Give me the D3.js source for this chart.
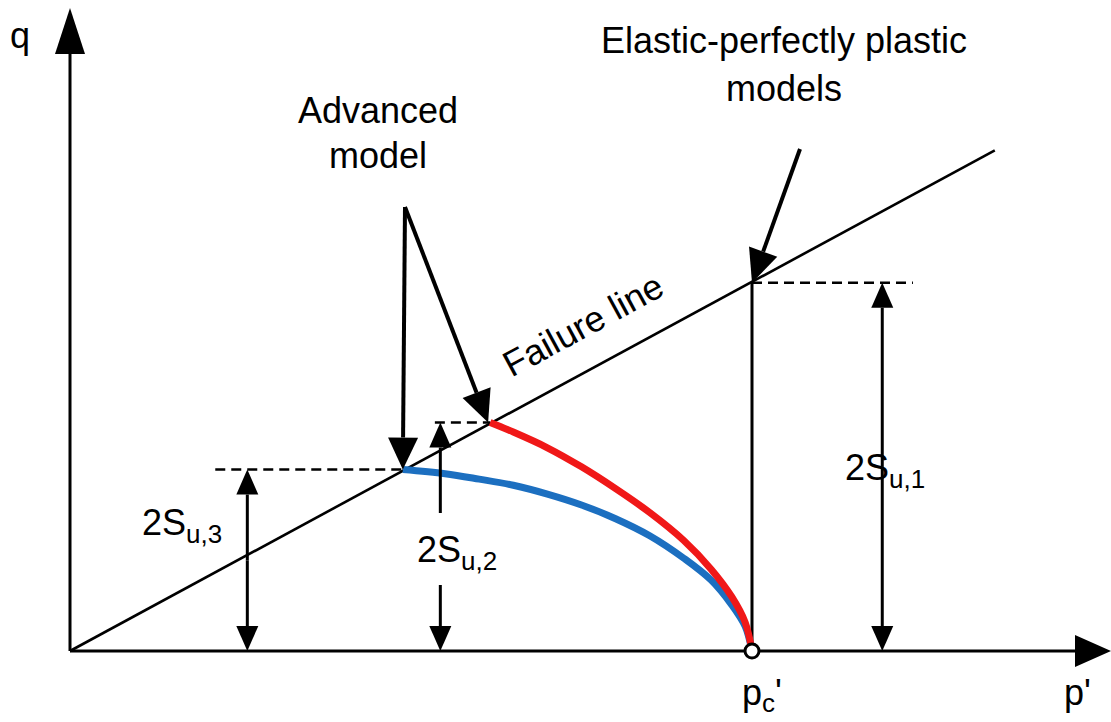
<!DOCTYPE html>
<html>
<head>
<meta charset="utf-8">
<script src="https://cdn.jsdelivr.net/npm/d3@7"></script>
<style>
  body { margin: 0; background: #fff; }
  svg { display: block; }
  text { font-family: "Liberation Sans", Arial, sans-serif; fill: #000; }
</style>
</head>
<body>
<div id="chart"></div>
<script>
// 数据（单位：p'/q，pc' = 100）
const failureLine = [[0, 0], [135.6, 73.4]];
const redPath = [[61.6, 33.5], [65, 32.1], [70, 29.8], [75, 27.0], [80, 23.8], [85, 20.3], [90, 16.2], [94, 12.0], [97, 8.0], [99, 4.2], [100, 0]];
const bluePath = [[48.8, 26.6], [55, 26.0], [60, 25.2], [65, 24.3], [70, 23.0], [75, 21.4], [80, 19.4], [85, 16.9], [90, 13.6], [94, 10.4], [97, 6.8], [99, 3.6], [100, 0]];
const pc = 100;
const strengths = [54.0, 33.5, 26.6];           // 2Su,1  2Su,2  2Su,3
const strengthNames = ["u,1", "u,2", "u,3"];
const dimArrowP = [119.1, 54.3, 26.0];          // 尺寸箭头所在的 p'
const dashStartP = [100, 53.5, 21.3];           // 虚线起点
const dashEndP = [123.6, 61.6, 48.8];           // 虚线终点
const axisLabels = ["q", "p'"];

const width = 1111, height = 722;
const x = d3.scaleLinear().domain([0, 100]).range([70, 752]);
const y = d3.scaleLinear().domain([0, 100]).range([651, -31]);

const svg = d3.select("#chart").append("svg")
    .attr("width", width).attr("height", height);

// 箭头：线 + 实心三角
function arrow(x1, y1, x2, y2, len, w, sw) {
    const a = Math.atan2(y2 - y1, x2 - x1);
    const bx = x2 - len * Math.cos(a), by = y2 - len * Math.sin(a);
    svg.append("line")
       .attr("x1", x1).attr("y1", y1).attr("x2", bx).attr("y2", by)
       .attr("stroke", "#000").attr("stroke-width", sw);
    const nx = -Math.sin(a) * w / 2, ny = Math.cos(a) * w / 2;
    svg.append("polygon")
       .attr("points", [[x2, y2], [bx + nx, by + ny], [bx - nx, by - ny]].map(p => p.join(",")).join(" "))
       .attr("fill", "#000");
}

// 坐标轴
arrow(x(0), y(0), x(0), 8, 46, 30, 3);
arrow(x(0), y(0), 1111, y(0), 36, 32, 3);

// 破坏线
svg.append("line")
   .attr("x1", x(failureLine[0][0])).attr("y1", y(failureLine[0][1]))
   .attr("x2", x(failureLine[1][0])).attr("y2", y(failureLine[1][1]))
   .attr("stroke", "#000").attr("stroke-width", 2.6);

// 虚线
strengths.forEach((s, i) => {
    svg.append("line")
       .attr("x1", x(dashStartP[i])).attr("x2", x(dashEndP[i]))
       .attr("y1", y(s)).attr("y2", y(s))
       .attr("stroke", "#000").attr("stroke-width", 2.5)
       .attr("stroke-dasharray", "10,6");
});

// pc' 处竖线
svg.append("line")
   .attr("x1", x(pc)).attr("x2", x(pc))
   .attr("y1", y(strengths[0])).attr("y2", y(0))
   .attr("stroke", "#000").attr("stroke-width", 3);

// 屈服面曲线
const line = d3.line().x(d => x(d[0])).y(d => y(d[1])).curve(d3.curveCatmullRom.alpha(0.5));
svg.append("path").attr("d", line(bluePath))
   .attr("fill", "none").attr("stroke", "#1c6fc0").attr("stroke-width", 7);
svg.append("path").attr("d", line(redPath))
   .attr("fill", "none").attr("stroke", "#f01818").attr("stroke-width", 7);

// 尺寸箭头
arrow(x(dimArrowP[0]), (y(0) + y(strengths[0])) / 2, x(dimArrowP[0]), y(strengths[0]), 25, 22, 3);
arrow(x(dimArrowP[0]), (y(0) + y(strengths[0])) / 2, x(dimArrowP[0]), y(0), 25, 22, 3);
arrow(x(dimArrowP[1]), 513, x(dimArrowP[1]), y(strengths[1]), 25, 22, 3);
arrow(x(dimArrowP[1]), 585, x(dimArrowP[1]), y(0), 25, 22, 3);
arrow(x(dimArrowP[2]), (y(0) + y(strengths[2])) / 2, x(dimArrowP[2]), y(strengths[2]), 25, 22, 3);
arrow(x(dimArrowP[2]), (y(0) + y(strengths[2])) / 2, x(dimArrowP[2]), y(0), 25, 22, 3);

// 注释箭头
arrow(405, 207, x(bluePath[0][0]), y(bluePath[0][1]), 32, 30, 4);
arrow(405, 207, x(redPath[0][0]) - 2, y(redPath[0][1]), 32, 30, 4);
arrow(800, 149, x(pc), y(strengths[0]), 33, 30, 4);

// pc' 小圆
svg.append("circle").attr("cx", x(pc)).attr("cy", y(0)).attr("r", 7)
   .attr("fill", "#fff").attr("stroke", "#000").attr("stroke-width", 3);

// 文字
const fs = 36;
function label(tx, ty, str, anchor) {
    svg.append("text").attr("x", tx).attr("y", ty)
       .attr("font-size", fs).attr("text-anchor", anchor || "start").text(str);
}
label(10, 48, axisLabels[0]);
label(1064, 705, axisLabels[1]);
const pcT = svg.append("text").attr("x", 742).attr("y", 705).attr("font-size", fs);
pcT.append("tspan").text("p");
pcT.append("tspan").attr("font-size", 26).attr("dy", 7).text("c");
pcT.append("tspan").attr("dy", -7).text("'");

label(378, 123, "Advanced", "middle");
label(378, 168, "model", "middle");
label(784, 53, "Elastic-perfectly plastic", "middle");
label(784, 101, "models", "middle");

// 破坏线标注
const fp = 78.2, ang = Math.atan2(-(y(failureLine[1][1]) - y(0)), x(failureLine[1][0]) - x(0)) * 180 / Math.PI;
svg.append("text")
   .attr("transform", `translate(${x(fp)},${y(fp * failureLine[1][1] / failureLine[1][0])}) rotate(${-ang}) translate(0,-30)`)
   .attr("font-size", fs).attr("text-anchor", "middle").text("Failure line");

// 2Su 标注
const suPos = [[845, 480], [417, 562], [142, 535]];
strengthNames.forEach((n, i) => {
    const t = svg.append("text").attr("x", suPos[i][0]).attr("y", suPos[i][1]).attr("font-size", fs);
    t.append("tspan").text("2S");
    t.append("tspan").attr("font-size", 26).attr("dy", 8).text(n);
});
</script>
</body>
</html>
